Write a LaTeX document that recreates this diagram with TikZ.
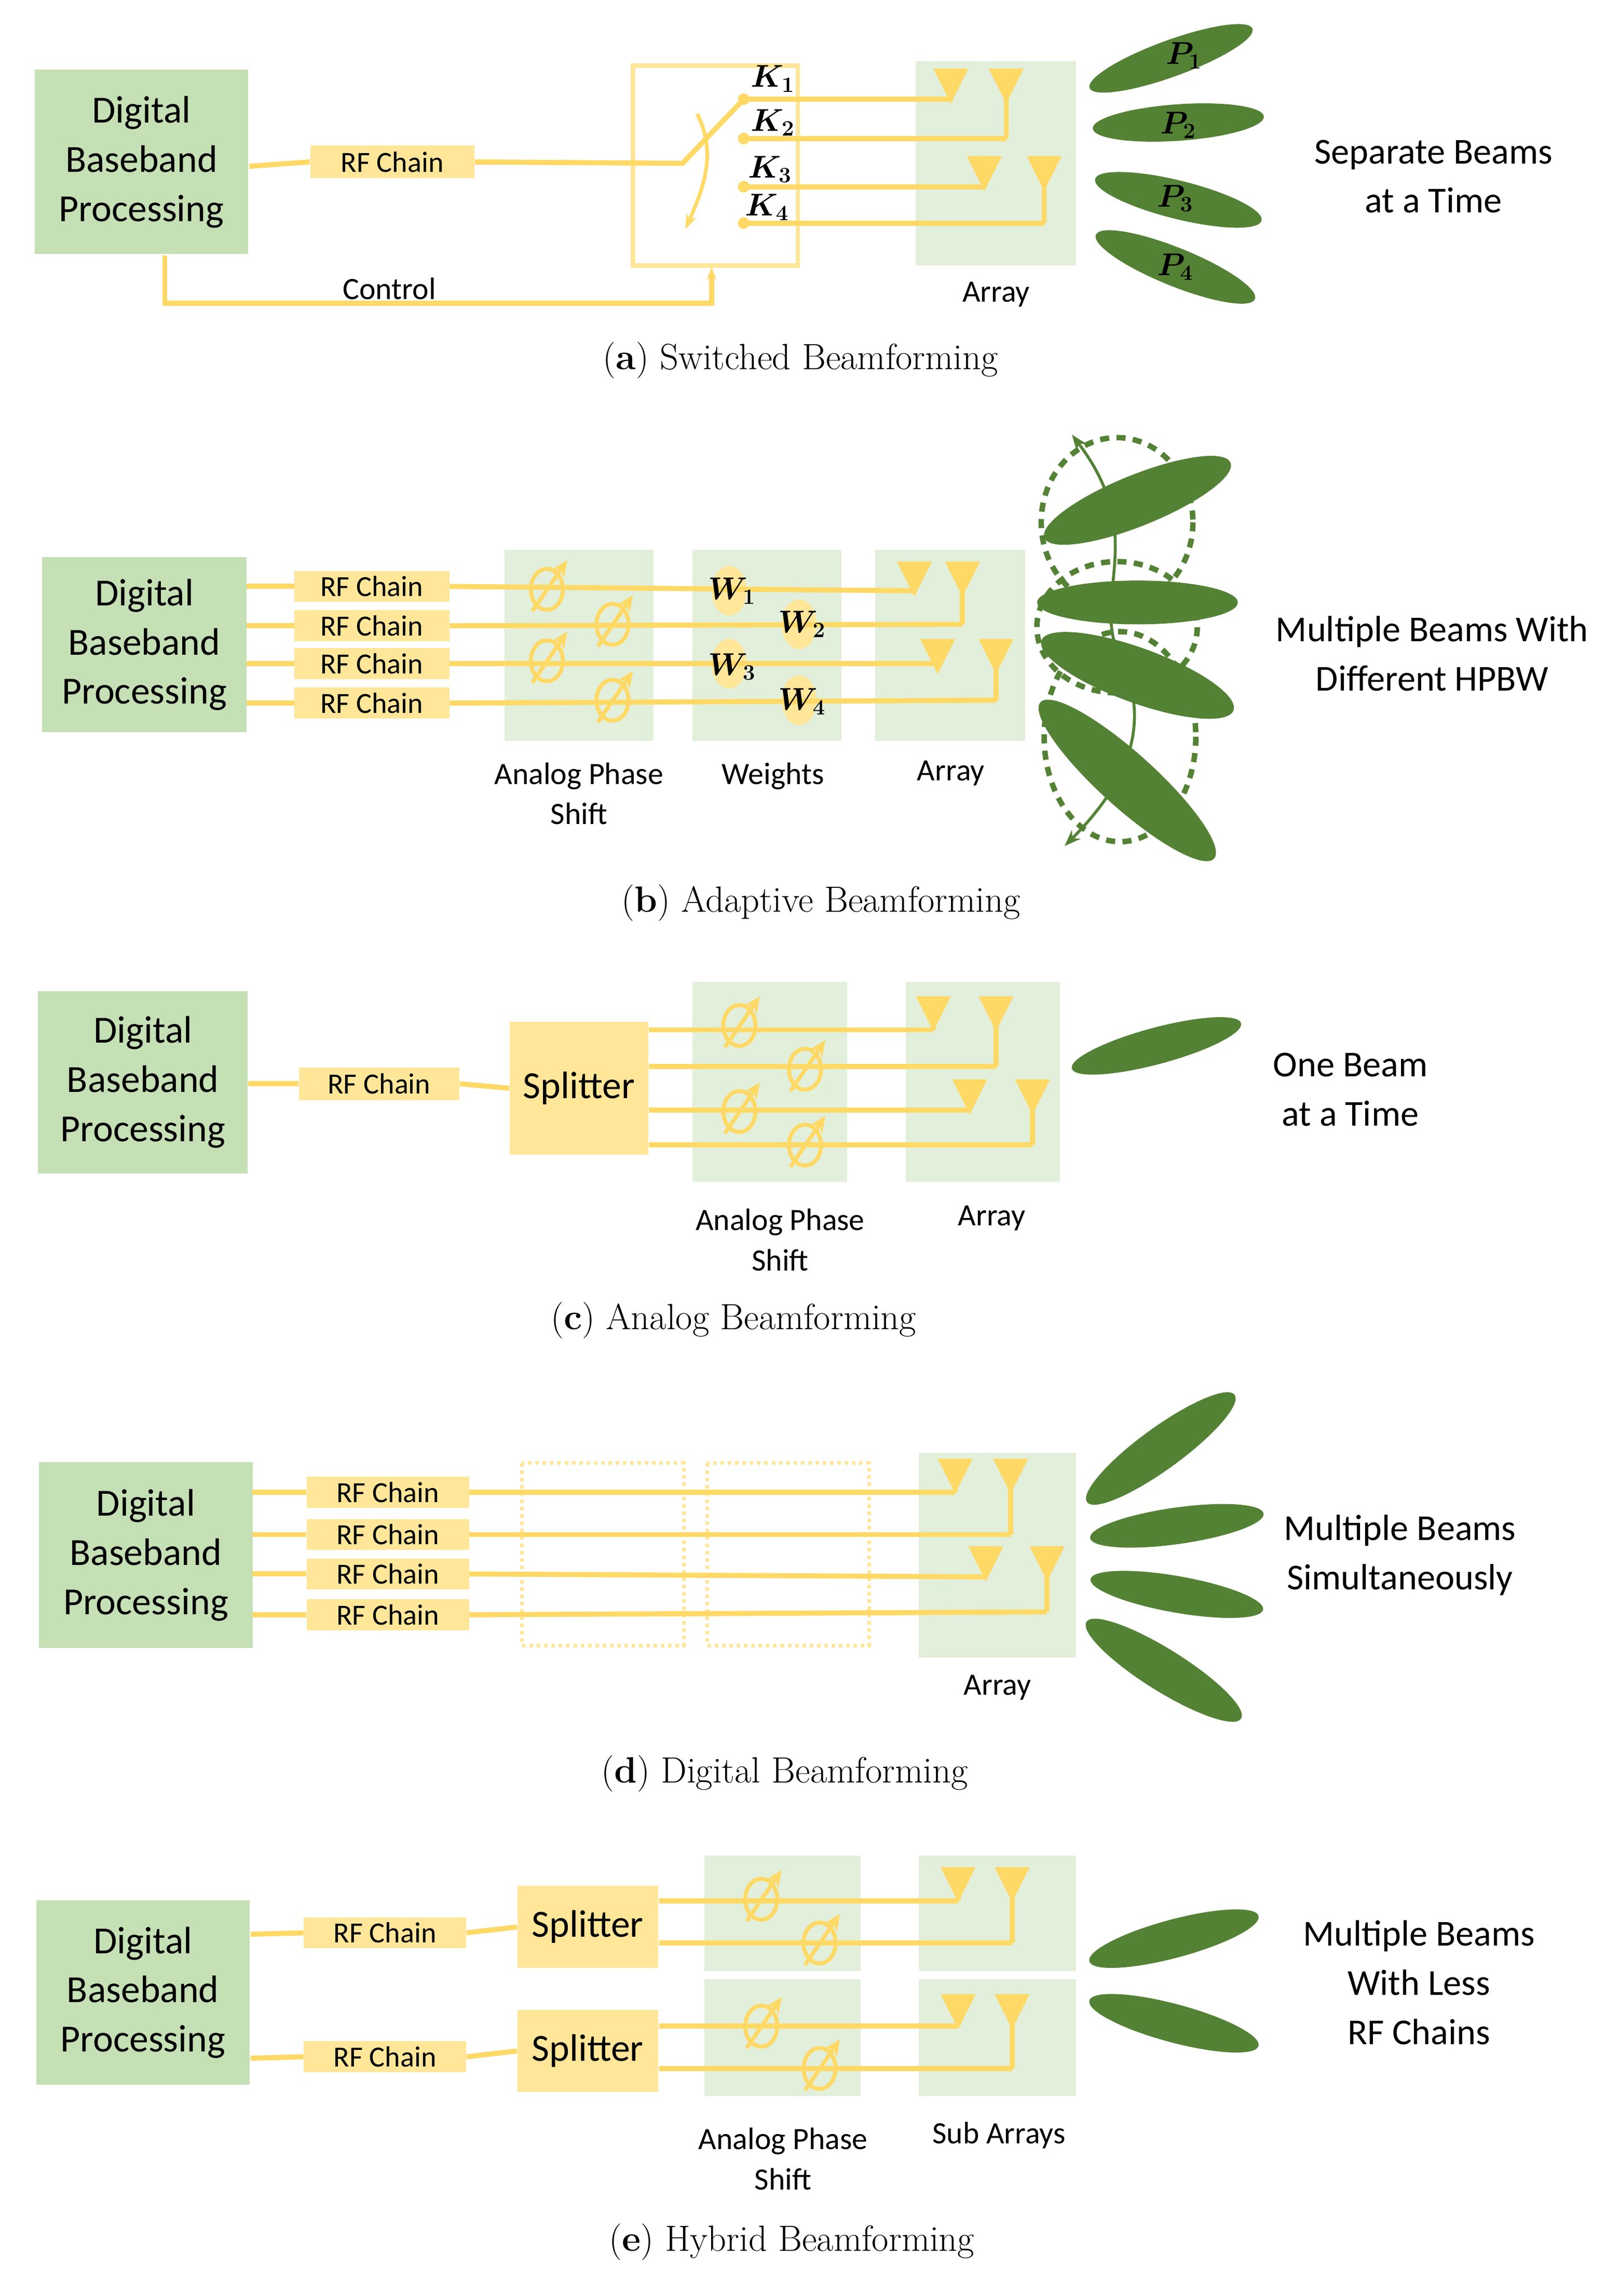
\documentclass[tikz,border=0pt]{standalone}
\usepackage{amsmath,bm}
\usepackage{fontspec}
\setmainfont{Latin Modern Roman}
\newfontfamily\carl{Carlito}
\usetikzlibrary{shapes.geometric,arrows.meta}
\definecolor{dbg}{HTML}{C5E0B4}
\definecolor{lg}{HTML}{E2EFDA}
\definecolor{yl}{HTML}{FFD966}
\definecolor{ly}{HTML}{FFE699}
\definecolor{dg}{HTML}{548235}
\tikzset{
 dbp/.style={fill=dbg,font=\carl\fontsize{21}{27}\selectfont,align=center},
 rf/.style={fill=ly,font=\carl\fontsize{16}{18}\selectfont,inner sep=0pt},
 sp/.style={fill=ly,font=\carl\fontsize{21}{25}\selectfont},
 lbl/.style={font=\carl\fontsize{17}{22}\selectfont,align=center},
 bigl/.style={font=\carl\fontsize{20}{27}\selectfont,align=center},
 capt/.style={font=\fontsize{20}{24}\selectfont},
 wire/.style={draw=yl,line width=2.8pt},
 beam/.style={ellipse,fill=dg,inner sep=0pt},
 ml/.style={font=\fontsize{17}{20}\selectfont}
}
\newcommand\antn[3]{\fill[yl] (#1-12,#2)--(#1+12,#2)--(#1,#2+24)--cycle;
 \draw[wire] (#1,#2+20)--(#1,#3);}
\newcommand\phs[2]{\draw[yl,line width=2.2pt] (#1,#2) ellipse[x radius=11,y radius=14];
 \draw[yl,line width=2.2pt,-{Stealth[length=9pt,width=8pt]}] (#1-10,#2+15)--(#1+14,#2-20);}
\begin{document}
\begin{tikzpicture}[x=0.02809cm,y=-0.02809cm]
\useasboundingbox (0,0) rectangle (1110,1574);
% ---------------- (a)
\node[dbp,minimum width=117pt,minimum height=101pt] (a0) at (97,111) {Digital\\Baseband\\Processing};
\node[rf,minimum width=90pt,minimum height=18pt] (a1) at (269,111) {RF Chain};
\draw[ly,line width=2.4pt] (434,45) rectangle (547,182);
\fill[lg] (628,42) rectangle (738,182);
\draw[wire] (171,114)--(a1.west);
\draw[wire] (a1.east)--(468,112)--(510,68);
\draw[yl,line width=2pt,-{Stealth[length=8pt]}] (478,78) .. controls (492,105) and (482,130) .. (470,157);
\foreach \y in {68,95,128,153} \fill[yl] (510,\y) circle[radius=4];
\draw[wire] (510,68)--(652,68); \antn{652}{47}{68}
\draw[wire] (510,95)--(690,95); \antn{690}{47}{95}
\draw[wire] (510,128)--(675,128); \antn{675}{107}{128}
\draw[wire] (510,153)--(716,153); \antn{716}{107}{153}
\node[ml] at (530,54) {$\bm{K_1}$};
\node[ml] at (530,84) {$\bm{K_2}$};
\node[ml] at (528,116) {$\bm{K_3}$};
\node[ml] at (526,142) {$\bm{K_4}$};
\draw[wire,-{Stealth[length=7pt]}] (113,175)--(113,208)--(488,208)--(488,183);
\node[lbl] at (267,198) {Control};
\node[lbl] at (683,202) {Array};
\node[beam,minimum width=95pt,minimum height=20pt,rotate=20] at (803,40) {};
\node[beam,minimum width=94pt,minimum height=20pt,rotate=4] at (808,84) {};
\node[beam,minimum width=94pt,minimum height=21pt,rotate=-14] at (808,137) {};
\node[beam,minimum width=94pt,minimum height=21pt,rotate=-22] at (806,183) {};
\node[ml] at (812,38) {$\bm{P_1}$};
\node[ml] at (808,86) {$\bm{P_2}$};
\node[ml] at (806,136) {$\bm{P_3}$};
\node[ml] at (806,183) {$\bm{P_4}$};
\node[bigl] at (983,121) {Separate Beams\\at a Time};
\node[capt] at (549,247) {(\textbf{a}) Switched Beamforming};
% ---------------- (b)
\node[dbp,minimum width=112pt,minimum height=96pt] at (99,442) {Digital\\Baseband\\Processing};
\fill[lg] (346,377) rectangle (448,508);
\fill[lg] (475,377) rectangle (577,508);
\fill[lg] (600,377) rectangle (703,508);
\foreach \y/\n in {402/1,429/2,455/3,482/4}{
 \draw[wire] (169,\y)--(202,\y);
 \node[rf,minimum width=85pt,minimum height=17pt] (b\n) at (255,\y) {RF Chain};}
\foreach \x/\y in {500/405,548/428,500/455,548/480} \fill[ly] (\x,\y) ellipse[x radius=12,y radius=17];
\draw[wire] (b1.east)--(627,405); \antn{627}{385}{405}
\draw[wire] (b2.east)--(660,428); \antn{660}{385}{428}
\draw[wire] (b3.east)--(643,455); \antn{643}{438}{455}
\draw[wire] (b4.east)--(683,480); \antn{683}{438}{480}
\phs{375}{404}\phs{420}{428}\phs{375}{453}\phs{420}{480}
\node[ml] at (502,405) {$\bm{W_1}$};
\node[ml] at (550,428) {$\bm{W_2}$};
\node[ml] at (502,457) {$\bm{W_3}$};
\node[ml] at (550,481) {$\bm{W_4}$};
\node[lbl] at (397,544) {Analog Phase\\Shift};
\node[lbl] at (530,532) {Weights};
\node[lbl] at (652,530) {Array};
\begin{scope}[dg,line width=3pt,dash pattern=on 5pt off 4pt]
\draw (766,358) ellipse[x radius=52,y radius=58];
\draw (766,430) ellipse[x radius=55,y radius=45];
\draw (768,505) ellipse[x radius=52,y radius=72];
\end{scope}
\node[beam,minimum width=110pt,minimum height=28pt,rotate=22] at (780,343) {};
\node[beam,minimum width=110pt,minimum height=24pt] at (780,413) {};
\node[beam,minimum width=112pt,minimum height=30pt,rotate=-20] at (780,463) {};
\node[beam,minimum width=128pt,minimum height=30pt,rotate=-42] at (773,535) {};
\draw[dg,line width=1.6pt,{Stealth[length=9pt]}-{Stealth[length=9pt]}] (735,298) .. controls (790,370) and (745,410) .. (770,455) .. controls (790,500) and (770,540) .. (730,580);
\node[bigl] at (982,448) {Multiple Beams With\\Different HPBW};
\node[capt] at (563,619) {(\textbf{b}) Adaptive Beamforming};
% ---------------- (c)
\node[dbp,minimum width=115pt,minimum height=100pt] at (98,742) {Digital\\Baseband\\Processing};
\node[rf,minimum width=88pt,minimum height=18pt] (c1) at (260,743) {RF Chain};
\node[sp,minimum width=76pt,minimum height=73pt] (c2) at (397,746) {Splitter};
\fill[lg] (475,673) rectangle (581,810);
\fill[lg] (621,673) rectangle (727,810);
\draw[wire] (170,743)--(c1.west); \draw[wire] (c1.east)--(c2.west);
\draw[wire] (445,706)--(640,706); \antn{640}{683}{706}
\draw[wire] (445,731)--(683,731); \antn{683}{683}{731}
\draw[wire] (445,761)--(665,761); \antn{665}{740}{761}
\draw[wire] (445,785)--(708,785); \antn{708}{740}{785}
\phs{507}{703}\phs{552}{733}\phs{507}{762}\phs{552}{785}
\node[lbl] at (535,850) {Analog Phase\\Shift};
\node[lbl] at (680,835) {Array};
\node[beam,minimum width=96pt,minimum height=20pt,rotate=15] at (793,717) {};
\node[bigl] at (926,747) {One Beam\\at a Time};
\node[capt] at (503,905) {(\textbf{c}) Analog Beamforming};
% ---------------- (d)
\node[dbp,minimum width=117pt,minimum height=102pt] at (100,1066) {Digital\\Baseband\\Processing};
\fill[lg] (630,996) rectangle (738,1136);
\draw[ly,line width=2pt,dotted] (358,1003) rectangle (469,1128);
\draw[ly,line width=2pt,dotted] (485,1003) rectangle (596,1128);
\foreach \y/\n in {1023/1,1052/2,1079/3,1107/4}{
 \draw[wire] (173,\y)--(210,\y);
 \node[rf,minimum width=89pt,minimum height=17pt] (d\n) at (266,\y) {RF Chain};}
\draw[wire] (d1.east)--(655,1023); \antn{655}{1000}{1023}
\draw[wire] (d2.east)--(693,1052); \antn{693}{1000}{1052}
\draw[wire] (d3.east)--(676,1081); \antn{676}{1060}{1081}
\draw[wire] (d4.east)--(718,1105); \antn{718}{1060}{1105}
\node[lbl] at (684,1157) {Array};
\node[beam,minimum width=100pt,minimum height=23pt,rotate=36] at (796,993) {};
\node[beam,minimum width=96pt,minimum height=20pt,rotate=8] at (807,1046) {};
\node[beam,minimum width=96pt,minimum height=20pt,rotate=-10] at (807,1093) {};
\node[beam,minimum width=100pt,minimum height=23pt,rotate=-32] at (798,1145) {};
\node[bigl] at (960,1066) {Multiple Beams\\Simultaneously};
\node[capt] at (538,1216) {(\textbf{d}) Digital Beamforming};
% ---------------- (e)
\node[dbp,minimum width=117pt,minimum height=101pt] at (98,1366) {Digital\\Baseband\\Processing};
\node[rf,minimum width=89pt,minimum height=17pt] (e1) at (264,1325) {RF Chain};
\node[rf,minimum width=89pt,minimum height=17pt] (e2) at (264,1410) {RF Chain};
\node[sp,minimum width=77pt,minimum height=45pt] (s1) at (403,1321) {Splitter};
\node[sp,minimum width=77pt,minimum height=45pt] (s2) at (403,1406) {Splitter};
\fill[lg] (483,1272) rectangle (590,1351);
\fill[lg] (483,1357) rectangle (590,1437);
\fill[lg] (630,1272) rectangle (738,1351);
\fill[lg] (630,1357) rectangle (738,1437);
\draw[wire] (172,1326)--(e1.west); \draw[wire] (e1.east)--(s1.west);
\draw[wire] (172,1411)--(e2.west); \draw[wire] (e2.east)--(s2.west);
\draw[wire] (452,1303)--(657,1303); \antn{657}{1280}{1303}
\draw[wire] (452,1332)--(694,1332); \antn{694}{1280}{1332}
\draw[wire] (452,1389)--(657,1389); \antn{657}{1367}{1389}
\draw[wire] (452,1418)--(694,1418); \antn{694}{1367}{1418}
\phs{522}{1302}\phs{562}{1332}\phs{522}{1389}\phs{562}{1418}
\node[lbl] at (537,1480) {Analog Phase\\Shift};
\node[lbl] at (685,1464) {Sub Arrays};
\node[beam,minimum width=96pt,minimum height=21pt,rotate=15] at (805,1329) {};
\node[beam,minimum width=96pt,minimum height=21pt,rotate=-15] at (805,1387) {};
\node[bigl] at (973,1359) {Multiple Beams\\With Less\\RF Chains};
\node[capt] at (543,1537) {(\textbf{e}) Hybrid Beamforming};
\end{tikzpicture}
\end{document}
